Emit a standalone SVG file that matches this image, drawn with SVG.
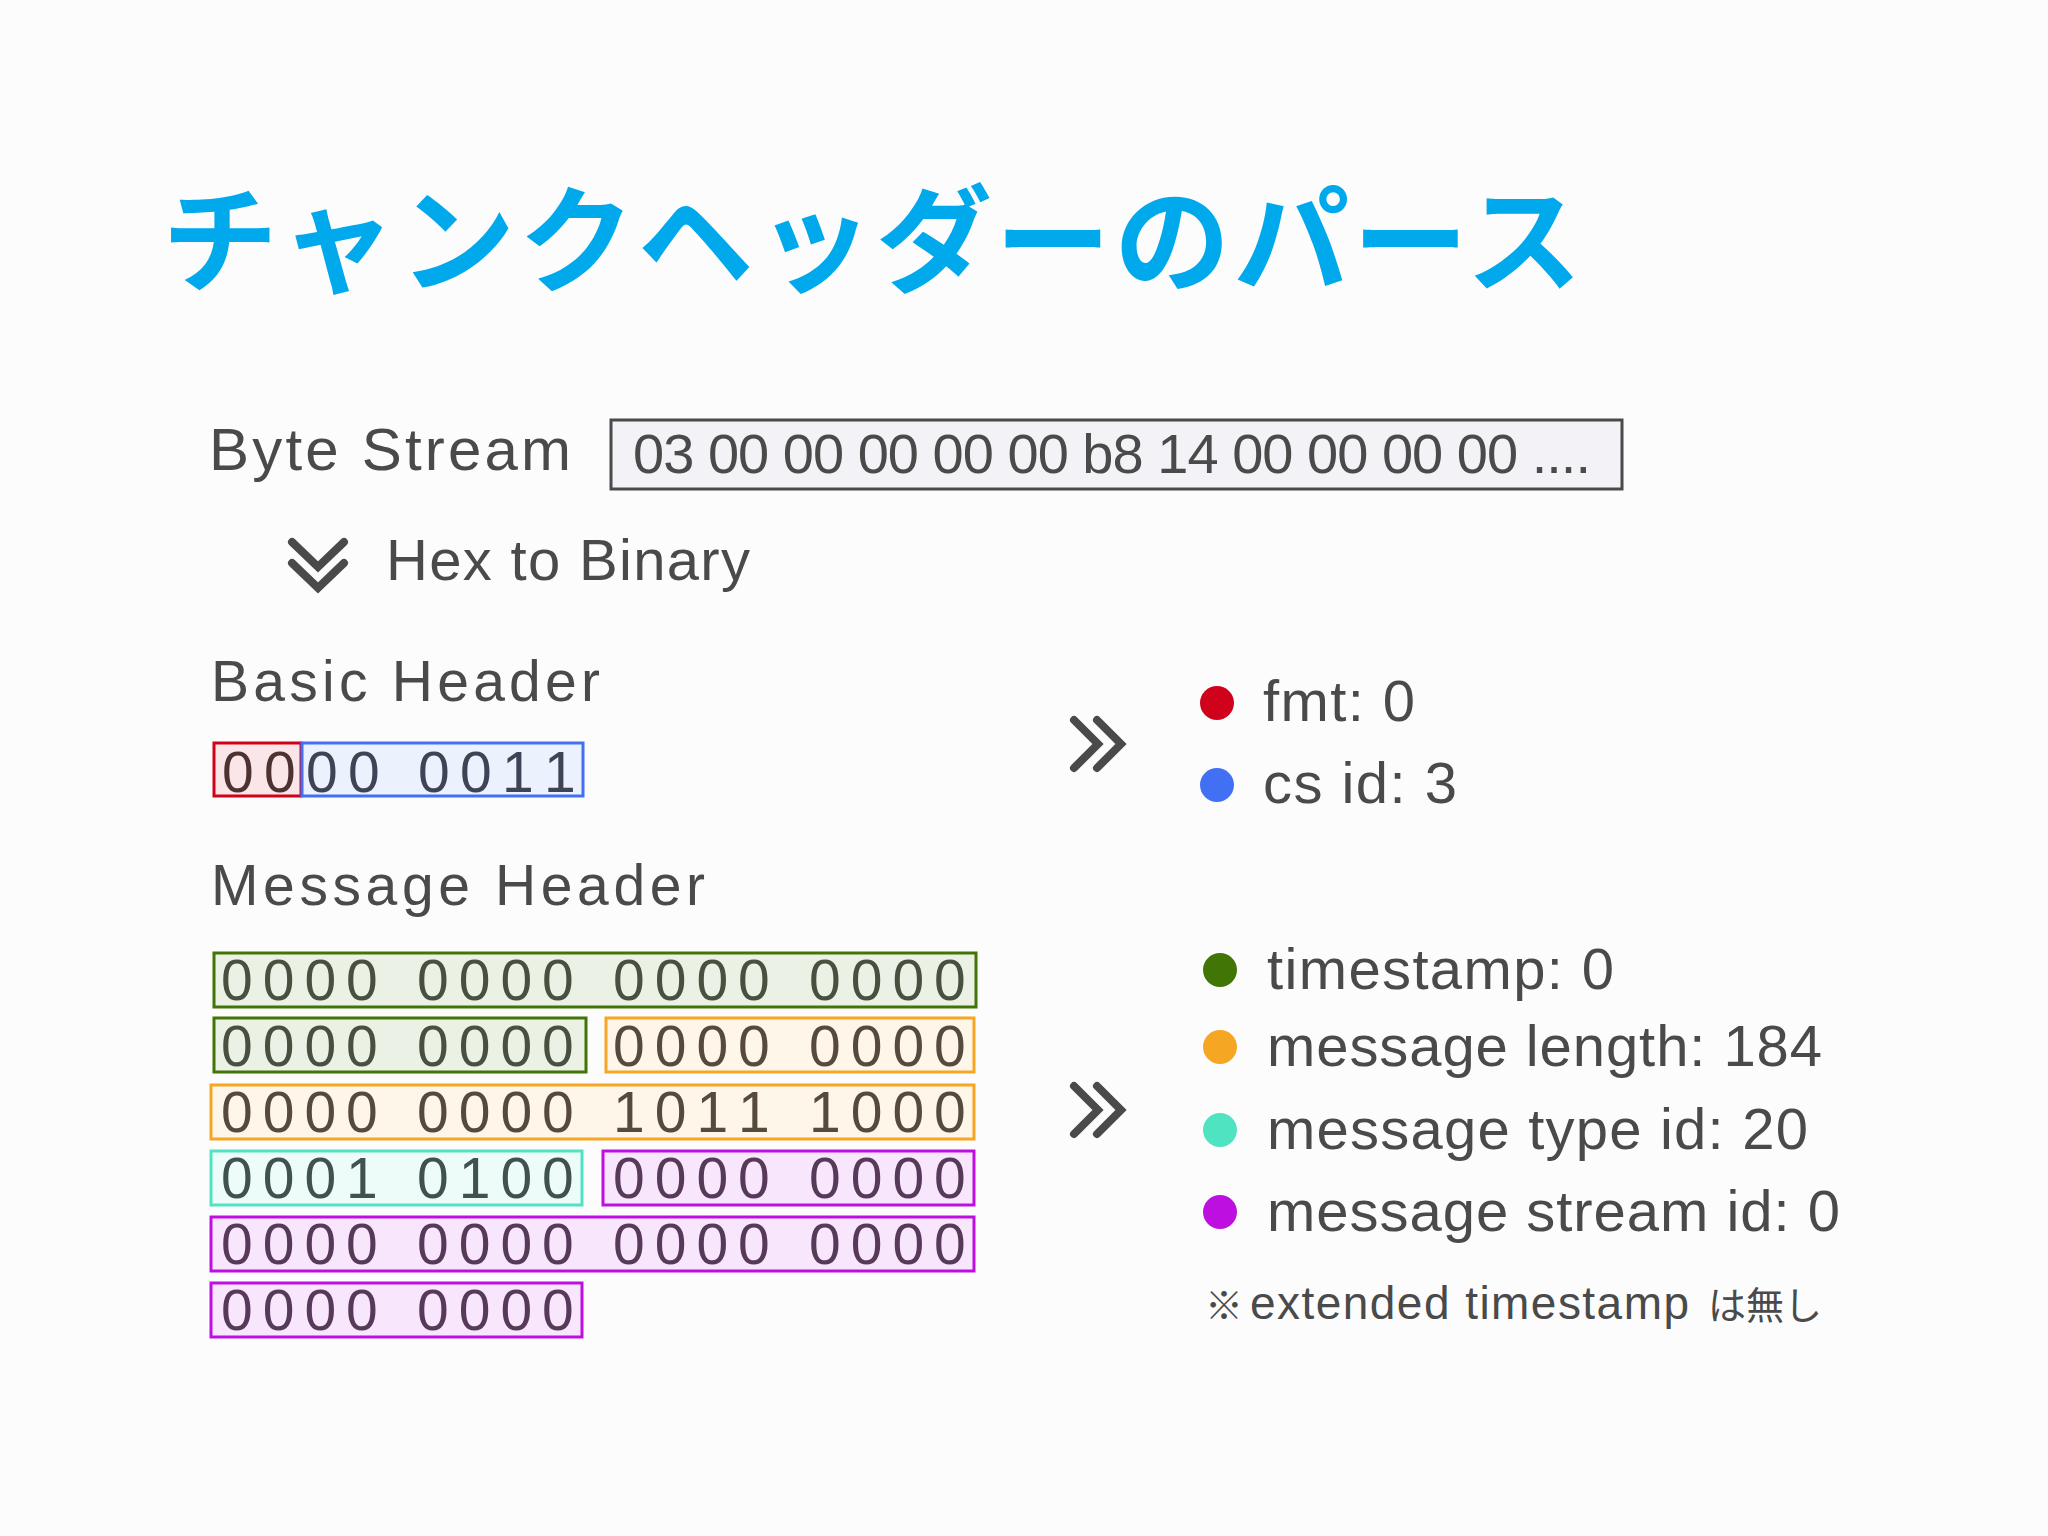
<svg xmlns="http://www.w3.org/2000/svg" width="2048" height="1536" viewBox="0 0 2048 1536">
  <style>
    .lbl { font-family: "Liberation Sans", "Noto Sans CJK JP", sans-serif; fill: #4a4a4a; }
    .bits { font-family: "Liberation Sans", sans-serif; font-size: 57px; }
    .box { stroke-width: 3; }
    .g { fill: #ECF1E6; stroke: #417505; }
    .o { fill: #FEF6E9; stroke: #F5A623; }
    .t { fill: #EDFCF9; stroke: #50E3C2; }
    .p { fill: #F8E7FC; stroke: #BD10E0; }
    .r { fill: #FAE6E8; stroke: #D0021B; }
    .b { fill: #ECF1FE; stroke: #4270F4; }
    .tg { fill: #48503f; }
    .to { fill: #564a3c; }
    .tt { fill: #3f5250; }
    .tp { fill: #573a5a; }
    .tr { fill: #4e3232; }
    .tb { fill: #3e4456; }
    .chev { fill: none; stroke: #4a4a4a; stroke-width: 8; stroke-linecap: round; stroke-linejoin: miter; }
    .item { font-size: 58px; }
  </style>
  <rect x="0" y="0" width="2048" height="1536" fill="#FCFCFD"/>

  <g id="title">
    <text x="162" y="283" font-family="'Noto Sans CJK JP', sans-serif" font-weight="700" font-size="116" fill="#00A8EC" textLength="1420" lengthAdjust="spacing">チャンクヘッダーのパース</text>
  </g>

  <g id="byte-stream-label">
    <text class="lbl" x="209" y="470" font-size="60" textLength="362" lengthAdjust="spacing">Byte Stream</text>
  </g>

  <g id="byte-stream">
    <rect x="611" y="420" width="1011" height="69" fill="#F3F2F6" stroke="#4a4a4a" stroke-width="3"/>
    <text class="lbl" x="633" y="473" font-size="56" textLength="958" lengthAdjust="spacing">03 00 00 00 00 00 b8 14 00 00 00 00 ....</text>
  </g>

  <g id="hex-to-binary">
    <text class="lbl" x="386" y="580" font-size="58" textLength="364" lengthAdjust="spacing">Hex to Binary</text>
  </g>

  <g id="basic-header-label">
    <text class="lbl" x="211" y="701" font-size="57" textLength="389" lengthAdjust="spacing">Basic Header</text>
  </g>

  <g id="basic-header">
    <rect class="box r" x="214" y="743" width="87" height="53"/>
    <rect class="box b" x="302" y="743" width="281" height="53"/>
    <text class="bits tr" font-size="62" x="222 264" y="792">00</text>
    <text class="bits tb" font-size="62" x="306 348 390 418 460 502 544" y="792">00 0011</text>
  </g>

  <g id="message-header-label">
    <text class="lbl" x="211" y="905" font-size="57" textLength="494" lengthAdjust="spacing">Message Header</text>
  </g>

  <g id="message-header">
    <rect class="box g" x="214" y="953" width="762" height="54"/>
    <text class="bits tg" x="221 262.7 304.4 346.1 388 417 458.7 500.4 542.1 584 613 654.7 696.4 738.1 780 809 850.7 892.4 934.1" y="1000">0000 0000 0000 0000</text>

    <rect class="box g" x="214" y="1018" width="372" height="54"/>
    <text class="bits tg" x="221 262.7 304.4 346.1 388 417 458.7 500.4 542.1" y="1066">0000 0000</text>
    <rect class="box o" x="606" y="1018" width="368" height="54"/>
    <text class="bits to" x="613 654.7 696.4 738.1 780 809 850.7 892.4 934.1" y="1066">0000 0000</text>

    <rect class="box o" x="211" y="1085" width="763" height="54"/>
    <text class="bits to" x="221 262.7 304.4 346.1 388 417 458.7 500.4 542.1 584 613 654.7 696.4 738.1 780 809 850.7 892.4 934.1" y="1132">0000 0000 1011 1000</text>

    <rect class="box t" x="211" y="1151" width="371" height="54"/>
    <text class="bits tt" x="221 262.7 304.4 346.1 388 417 458.7 500.4 542.1" y="1198">0001 0100</text>
    <rect class="box p" x="603" y="1151" width="371" height="54"/>
    <text class="bits tp" x="613 654.7 696.4 738.1 780 809 850.7 892.4 934.1" y="1198">0000 0000</text>

    <rect class="box p" x="211" y="1217" width="763" height="54"/>
    <text class="bits tp" x="221 262.7 304.4 346.1 388 417 458.7 500.4 542.1 584 613 654.7 696.4 738.1 780 809 850.7 892.4 934.1" y="1264">0000 0000 0000 0000</text>

    <rect class="box p" x="211" y="1283" width="371" height="54"/>
    <text class="bits tp" x="221 262.7 304.4 346.1 388 417 458.7 500.4 542.1" y="1330">0000 0000</text>
  </g>

  <g id="basic-fields">
    <circle cx="1217" cy="703" r="17" fill="#D0021B"/>
    <text class="lbl item" x="1263" y="721" textLength="152" lengthAdjust="spacing">fmt: 0</text>
    <circle cx="1217" cy="785" r="17" fill="#4270F4"/>
    <text class="lbl item" x="1263" y="803" textLength="194" lengthAdjust="spacing">cs id: 3</text>
  </g>

  <g id="message-fields">
    <circle cx="1220" cy="970" r="17" fill="#417505"/>
    <text class="lbl item" x="1267" y="989" textLength="347" lengthAdjust="spacing">timestamp: 0</text>
    <circle cx="1220" cy="1047" r="17" fill="#F5A623"/>
    <text class="lbl item" x="1267" y="1066" textLength="555" lengthAdjust="spacing">message length: 184</text>
    <circle cx="1220" cy="1130" r="17" fill="#50E3C2"/>
    <text class="lbl item" x="1267" y="1149" textLength="541" lengthAdjust="spacing">message type id: 20</text>
    <circle cx="1220" cy="1212" r="17" fill="#BD10E0"/>
    <text class="lbl item" x="1267" y="1231" textLength="573" lengthAdjust="spacing">message stream id: 0</text>
  </g>

  <g id="note">
    <text class="lbl" y="1319" font-size="46"><tspan x="1205" font-size="38">※</tspan><tspan x="1250" textLength="439" lengthAdjust="spacing">extended timestamp</tspan><tspan x="1708" font-size="38" textLength="114" lengthAdjust="spacing">は無し</tspan></text>
  </g>

  <g id="connectors">
    <path class="chev" d="M292 542 L318 567 L344 542 M292 563 L318 588 L344 563"/>
    <path class="chev" d="M1074 720 L1098 744 L1074 768 M1097 720 L1121 744 L1097 768"/>
    <path class="chev" d="M1074 1086 L1098 1110 L1074 1134 M1097 1086 L1121 1110 L1097 1134"/>
  </g>
</svg>
